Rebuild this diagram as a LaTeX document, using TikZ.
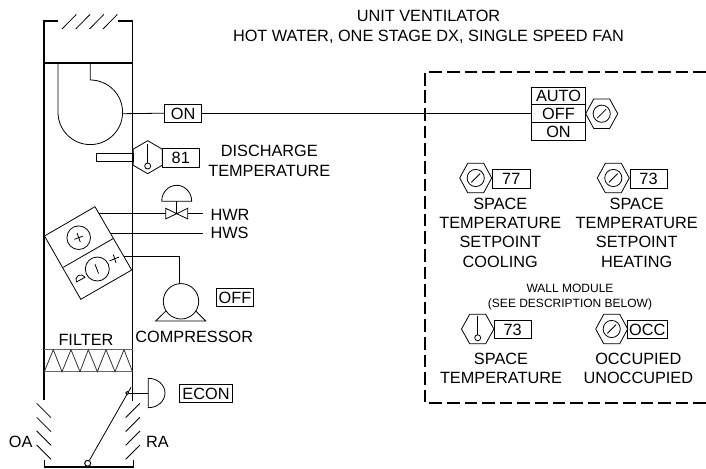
\documentclass[tikz,border=0pt]{standalone}
\usepackage{fontspec}
\setmainfont{Liberation Sans}
\tikzset{
  ln/.style={draw=black,line width=0.8pt},
  wall/.style={draw=black,line width=1.1pt},
  tag/.style={draw=black,line width=0.8pt,inner sep=0pt,minimum height=18.4pt,font=\fontsize{16.3}{16.3}\selectfont,anchor=center,text height=11.7pt,text depth=0pt},
  lab/.style={inner sep=0pt,font=\fontsize{16.3}{16.3}\selectfont,anchor=center,text height=11.7pt,text depth=0pt},
  smalllab/.style={inner sep=0pt,font=\fontsize{12}{12}\selectfont,anchor=center,text height=8.6pt,text depth=0pt},
  filterline/.style={draw=black!60,line width=1pt},
  dashbox/.style={draw=black,line width=1.9pt,dash pattern=on 12.7pt off 4.9pt},
  pics/hexdial/.style={code={
    \draw[ln] (-16,0)--(-8,-14.7)--(8,-14.7)--(16,0)--(8,14.7)--(-8,14.7)--cycle;
    \draw[ln] (0,0) circle (8.6);
    \draw[ln] (-4.4,-4.4)--(4.4,4.4);
  }},
  pics/hexprobe/.style={code={
    \draw[ln] (-16.2,0)--(-8,-14.7)--(8,-14.7)--(16.2,0)--(8,14.7)--(-8,14.7)--cycle;
    \draw[ln] (0,13)--(0,-6);
    \draw[ln] (0,-8.8) circle (3);
  }},
  pics/hexprobev/.style={code={
    \draw[ln] (0,-16.5)--(14.6,-8)--(14.6,8)--(0,16.5)--(-14.6,8)--(-14.6,-8)--cycle;
    \draw[ln] (0,13)--(0,-6);
    \draw[ln] (0,-8.8) circle (3);
  }}
}
\begin{document}
\begin{tikzpicture}[x=1pt,y=1pt,yscale=-1]
\useasboundingbox (0,0) rectangle (706,468);
% titles
\node[lab] (title1) at (428.5,16) {UNIT VENTILATOR};
\node[lab] (title2) at (428.5,36) {HOT WATER, ONE STAGE DX, SINGLE SPEED FAN};
% cabinet
\draw[wall] (58,21)--(44,21)--(44,400);
\draw[wall] (118,21)--(132.5,21)--(132.5,400.5);
\draw[wall] (44,63)--(132.5,63);
\foreach \x in {62,75.7,89.5,103}
  \draw[ln] (\x,29)--(\x+14.3,14.5);
% fan
\draw[ln] (58,63)--(58,112.3) arc[start angle=180,end angle=-90,radius=32.3]--(90.3,63);
\coordinate (fanout) at (122.6,113.7);
\node[tag,minimum width=37pt] (on) at (183.2,113.2) {ON};
\node[tag,minimum height=53.4pt,minimum width=54.4pt] (sel) at (558.5,114) {};
\draw[ln] (fanout)--(on.west);
\draw[ln] (on.east)--(on.east-|sel.west);
% discharge sensor
\draw[ln] (96.3,153.3) rectangle (133,161);
\pic at (147.7,157.2) {hexprobev};
\node[tag,minimum width=37pt] (t81) at (180.8,157.7) {81};
\node[lab] (dt1) at (269.3,151) {DISCHARGE};
\node[lab] (dt2) at (269.3,170.7) {TEMPERATURE};
% coil
\coordinate (cT) at (95,206.7);
\coordinate (cL) at (44.5,236);
\coordinate (cB) at (80.8,299.3);
\coordinate (cR) at (131.7,270);
\coordinate (cM1) at (63.3,267.3);
\coordinate (cM2) at (113.3,238.5);
\draw[ln,fill=white] (cT)--(cL)--(cB)--(cR)--cycle;
\draw[ln] (cM1)--(cM2);
\node[draw,circle,line width=0.8pt,minimum size=23.6pt,inner sep=0pt] (hot) at (78.7,237.7) {};
\draw[ln] (hot.center)++(-4.4,1.6)--++(8.8,-3.2);
\draw[ln] (hot.center)++(-1.6,-4.4)--++(3.2,8.8);
\node[draw,circle,line width=0.8pt,minimum size=24pt,inner sep=0pt] (dx) at (97.3,269) {};
\draw[ln] (95,264.3)--(98.6,273.5);
\draw[ln] (109.5,261)--(119,257);
\draw[ln] (113.3,254.5)--(116,263);
\draw[ln] (76.5,282)--(85,277.3) arc[start angle=-30,end angle=-210,radius=4.9]--cycle;
% valve
\coordinate (vc) at (176.7,213.7);
\draw[ln] (161.7,201.3) arc[start angle=180,end angle=360,x radius=15,y radius=16]--cycle;
\draw[ln] (176.7,201.3)--(vc);
\draw[ln] (165.7,208.3)--(vc)--(165.7,218.9)--cycle;
\draw[ln] (187.7,208.3)--(vc)--(187.7,218.9)--cycle;
\node[lab,anchor=west] (hwr) at (210.3,214.5) {HWR};
\node[lab,anchor=west] (hws) at (210.3,233) {HWS};
\draw[ln] (99,213.7)--(165.7,213.7);
\draw[ln] (187.7,213.7)--(203.3,213.7);
\draw[ln] (110,233)--(203.3,233);
% compressor
\node[draw,circle,line width=0.8pt,minimum size=35.4pt,inner sep=0pt] (comp) at (181,301.3) {};
\draw[ln] (124,256)-|(179,283.6);
\draw[ln] (165.9,311)--(155.7,321)--(205.7,321)--(195.7,311);
\node[tag,minimum width=36.6pt,minimum height=17.6pt] (off) at (235,297.5) {OFF};
\node[lab] (ct) at (194.3,336.7) {COMPRESSOR};
% filter
\node[lab] (ft) at (86,339.5) {FILTER};
\draw[filterline] (44,349.7)--(132.5,349.7);
\draw[filterline] (44,371.7)--(132.5,371.7);
\draw[ln,draw=black!80] (44.3,371.7)--(53.3,349.7)--(62,371.7)--(71,349.7)--(80,371.7)--(88.3,349.7)--(97.3,371.7)--(106,349.7)--(115,371.7)--(124,349.7)--(132.5,371.7);
% louvers
\foreach \y in {403.3,417.3,431,445}{
  \draw[ln] (36.7,\y)--(51,\y+14.3);
  \draw[ln] (125.7,\y+14.3)--(140,\y);
}
\node[lab] (oa) at (20.7,441.5) {OA};
\node[lab] (ra) at (157.5,441.5) {RA};
\draw[wall] (44.3,460)--(44.3,467)--(133.3,467)--(133.3,460);
% damper
\node[draw,circle,fill=white,line width=1pt,minimum size=6pt,inner sep=0pt] (piv) at (87.7,463.3) {};
\coordinate (dtip) at (131,387.3);
\draw[ln] (piv)--(dtip);
\node[draw,circle,fill=white,line width=0.8pt,minimum size=3pt,inner sep=0pt] (link) at (127.3,393) {};
\coordinate (act) at (148.3,393);
\draw[ln] (link)--(act);
\draw[ln] (148.3,378.3) arc[start angle=-90,end angle=90,x radius=16.7,y radius=14.7]--cycle;
\node[tag,minimum width=52.6pt,minimum height=18pt] (econ) at (206,393.7) {ECON};
% dashed box
\draw[dashbox] (706,72)--(425.3,72)--(425.3,403.3)--(706,403.3);
% selector
\draw[ln] (sel.west|-104,104)--(sel.east|-104,104);
\draw[ln] (sel.west|-122.3,122.3)--(sel.east|-122.3,122.3);
\node[lab] (auto) at (558.5,96) {AUTO};
\node[lab] (offs) at (558.5,113.5) {OFF};
\node[lab] (ons) at (558.5,132) {ON};
\pic at (601.7,113.7) {hexdial};
% setpoints
\pic at (475.7,178) {hexdial};
\node[tag,minimum width=37.3pt] (t77) at (511.3,178.7) {77};
\pic at (613.3,178) {hexdial};
\node[tag,minimum width=37pt] (t73a) at (648.5,178.7) {73};
\foreach \cx/\a/\b/\c/\d in {500.3/SPACE/TEMPERATURE/SETPOINT/COOLING,636.7/SPACE/TEMPERATURE/SETPOINT/HEATING}{
  \node[lab] at (\cx,203.3) {\a};
  \node[lab] at (\cx,222.7) {\b};
  \node[lab] at (\cx,242) {\c};
  \node[lab] at (\cx,261.3) {\d};
}
\node[smalllab] (wm1) at (570,287.7) {WALL MODULE};
\node[smalllab] (wm2) at (570,302.7) {(SEE DESCRIPTION BELOW)};
% wall module
\pic at (477.7,329) {hexprobe};
\node[tag,minimum width=36.7pt,minimum height=18pt] (t73b) at (512.7,329.7) {73};
\pic at (611.7,329) {hexdial};
\node[tag,minimum width=39.3pt] (occ) at (647.3,329.5) {OCC};
\node[lab] (sp) at (501,358.3) {SPACE};
\node[lab] (te) at (501,378) {TEMPERATURE};
\node[lab] (oc) at (638.3,358.3) {OCCUPIED};
\node[lab] (un) at (638.3,378) {UNOCCUPIED};
\end{tikzpicture}
\end{document}
